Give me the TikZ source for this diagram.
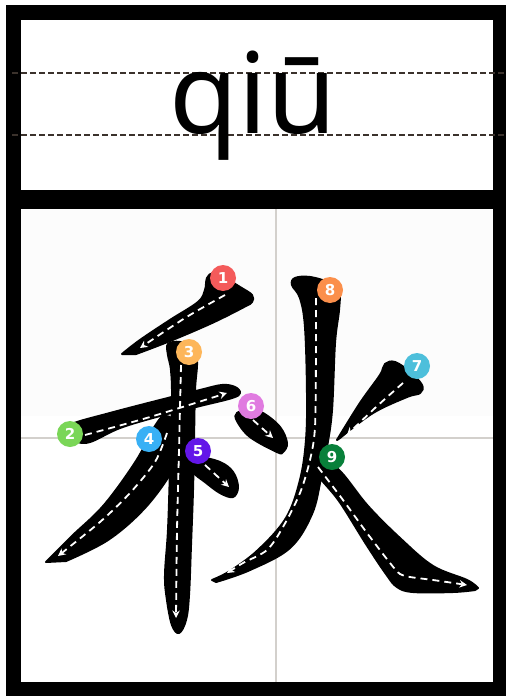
\documentclass[tikz,border=0pt]{standalone}
\usepackage{fontspec}
\setmainfont{Noto Sans}
\newfontfamily\numfont{DejaVu Sans}
\usetikzlibrary{arrows.meta}
\definecolor{c1}{HTML}{F45B5B}
\definecolor{c2}{HTML}{7AD657}
\definecolor{c3}{HTML}{FDB65A}
\definecolor{c4}{HTML}{38B0F5}
\definecolor{c5}{HTML}{6316E8}
\definecolor{c6}{HTML}{E07BE0}
\definecolor{c7}{HTML}{4DBFDB}
\definecolor{c8}{HTML}{FB8F4B}
\definecolor{c9}{HTML}{08803A}
\definecolor{gridc}{HTML}{D3D0CC}
\definecolor{pyline}{HTML}{3B322C}
\tikzset{
  stk/.style={fill=black, draw=black, line width=2pt, line join=round},
  guide/.style={draw=white, line width=1.8pt, dash pattern=on 7pt off 5pt, -{Stealth[length=7.5pt,width=7.5pt]}},
  numc/.style={circle, minimum size=26pt, inner sep=0pt, text=white, font=\numfont\bfseries\fontsize{15}{15}\selectfont},
  pydash/.style={draw=pyline, line width=1.3pt, dash pattern=on 6pt off 3pt},
  gridl/.style={draw=gridc, line width=1.5pt}
}
\begin{document}
\begin{tikzpicture}[x=1pt,y=-1pt]
\useasboundingbox (0,0) rectangle (506,696);
% frame
\fill[black] (6,5) rectangle (506,696);
\fill[white] (21,20) rectangle (493,190);
\fill[white] (21,209) rectangle (493,682);
\fill[black!1] (21,209) rectangle (493,416);
% pinyin area
\draw[pydash] (12,73) -- (506,73);
\draw[pydash] (12,135) -- (506,135);
\node[anchor=base, inner sep=0pt, font=\fontsize{112}{112}\selectfont] (py) at (253,133) {qiū};
% grid
\draw[gridl] (276,209) -- (276,682);
\draw[gridl] (21,438) -- (493,438);
% strokes
% 1
\filldraw[stk] plot[smooth, tension=0.6] coordinates {(122,354) (140,340) (170,320) (198,302) (205,290) (207,278) (213,273) (222,276) (240,287) (252,295) (252,302) (244,307) (212,323) (170,341) (136,354)} -- cycle;
% 2
\filldraw[stk] plot[smooth cycle, tension=0.6] coordinates {(72,424) (110,413) (160,400) (200,390) (222,385) (235,387) (240,393) (232,398) (200,406) (160,416) (120,428) (90,442) (76,441) (70,432)};
% 3
\filldraw[stk] plot[smooth cycle, tension=0.6] coordinates {(168,344) (180,342) (193,348) (197,362) (195,390) (194,440) (193,490) (191,545) (189,595) (186,620) (179,633) (172,625) (167,600) (165,575) (168,530) (170,470) (172,400) (171,370) (168,355)};
% 4
\filldraw[stk] plot[smooth, tension=0.6] coordinates {(46,562) (72,536) (104,505) (136,461) (155,426) (165,416) (177,424) (180,450) (171,473) (144,509) (108,540) (66,561)} -- cycle;
% 5
\filldraw[stk] plot[smooth cycle, tension=0.6] coordinates {(193,462) (198,457) (220,462) (233,472) (238,487) (233,497) (220,493) (205,482) (193,472)};
% 6
\filldraw[stk] plot[smooth cycle, tension=0.6] coordinates {(237,413) (250,410) (263,413) (280,427) (287,443) (283,452) (277,452) (250,437) (237,421)};
% 7
\filldraw[stk] plot[smooth, tension=0.6] coordinates {(337,440) (360,403) (380,375) (385,364) (395,362) (410,372) (422,385) (420,393) (407,397) (373,413) (340,438)} -- cycle;
% 8
\filldraw[stk] plot[smooth, tension=0.6] coordinates {(212,580) (230,571) (258,550) (286,518) (300,480) (306,440) (307,393) (305,327) (300,298) (292,285) (295,278) (310,277) (330,283) (339,292) (339,310) (335,343) (332,410) (327,447) (321,478) (312,514) (290,548) (250,570) (216,582)} -- cycle;
% 9
\filldraw[stk] plot[smooth, tension=0.6] coordinates {(478,588) (467,580) (433,566) (401,539) (368,506) (341,472) (322,458) (316,462) (317,474) (339,501) (366,544) (386,574) (397,587) (413,592) (453,592) (475,590)} -- cycle;
% guides
\draw[guide] plot[smooth] coordinates {(225,295) (185,318) (140,348)};
\draw[guide] plot[smooth] coordinates {(85,435) (150,417) (227,393)};
\draw[guide] plot[smooth] coordinates {(181,365) (179,450) (177,530) (176,618)};
\draw[guide] plot[smooth] coordinates {(167,433) (155,462) (130,493) (100,522) (58,556)};
\draw[guide] plot[smooth] coordinates {(205,465) (229,487)};
\draw[guide] plot[smooth] coordinates {(253,420) (273,438)};
\draw[guide] plot[smooth] coordinates {(403,383) (375,408) (347,435)};
\draw[guide] plot[smooth] coordinates {(316,298) (316,350) (315,427) (310,460) (300,493) (283,527) (267,550) (243,563) (227,573)};
\draw[guide] plot[smooth] coordinates {(318,467) (343,500) (367,533) (390,563) (400,574) (410,577) (433,580) (467,585)};
% numbers
\node[numc, fill=c1] (n1) at (223,278) {1};
\node[numc, fill=c2] (n2) at (70,434) {2};
\node[numc, fill=c3] (n3) at (189,352) {3};
\node[numc, fill=c4] (n4) at (149,439) {4};
\node[numc, fill=c5] (n5) at (198,451) {5};
\node[numc, fill=c6] (n6) at (251,406) {6};
\node[numc, fill=c7] (n7) at (417,366) {7};
\node[numc, fill=c8] (n8) at (330,290) {8};
\node[numc, fill=c9] (n9) at (332,457) {9};
\end{tikzpicture}
\end{document}
